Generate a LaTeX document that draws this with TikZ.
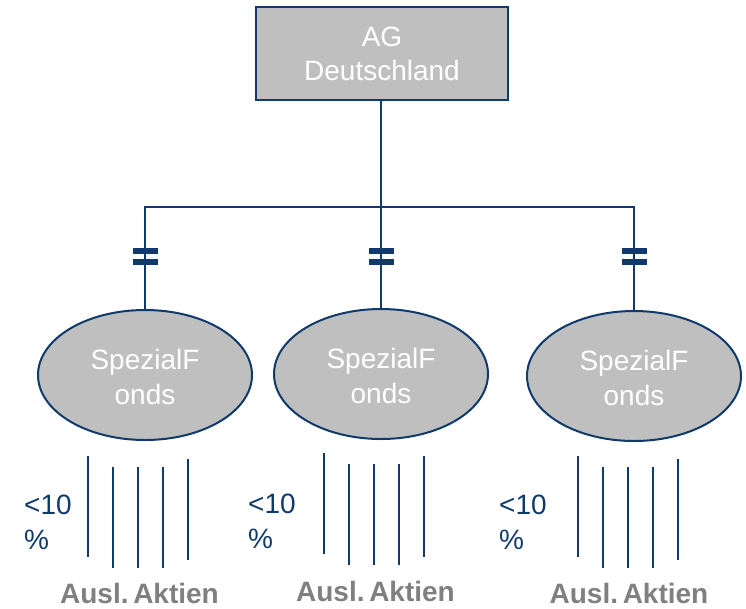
\documentclass[tikz,border=0pt]{standalone}
\usepackage{fontspec}
\setmainfont{Liberation Sans}
\usetikzlibrary{shapes.geometric}
\definecolor{navy}{HTML}{0F3A6B}
\definecolor{boxgray}{HTML}{BFBFBF}
\definecolor{labgray}{HTML}{808080}
\tikzset{
  conn/.style={draw=navy, line width=2pt},
  agbox/.style={draw=navy, line width=2pt, fill=boxgray, minimum width=252pt, minimum height=93pt, inner sep=0pt, text=white, align=center, font=\fontsize{28}{34}\selectfont},
  fund/.style={ellipse, draw=navy, line width=2pt, fill=boxgray, minimum width=214pt, minimum height=130pt, inner sep=0pt, text=white, align=center, font=\fontsize{28}{35}\selectfont},
  fundtext/.style={text=white, align=center, inner sep=0pt, font=\fontsize{28}{35}\selectfont},
  pct/.style={anchor=west, text=navy, align=left, inner sep=0pt, font=\fontsize{28}{35}\selectfont},
  ausl/.style={anchor=base, text=labgray, inner sep=0pt, font=\bfseries\fontsize{28}{34}\selectfont},
  capbar/.style={fill=navy, draw=none},
  stroke/.style={draw=navy, line width=2pt}
}
\begin{document}
\begin{tikzpicture}[x=1pt, y=-1pt]
\useasboundingbox (0,0) rectangle (746,608);
\node[agbox] (ag) at (382,53.5) {AG\\Deutschland};
\node[fund] (f1) at (145,375) {};
\node[fund] (f2) at (381,374) {};
\node[fund] (f3) at (634,376) {};
\node[fundtext] (t1) at (145,377) {SpezialF\\onds};
\node[fundtext] (t2) at (381,376) {SpezialF\\onds};
\node[fundtext] (t3) at (634,378) {SpezialF\\onds};
\coordinate (bus) at (381,207);
\draw[conn] (bus |- ag.south) -- (bus);
\draw[conn] (f1.north) |- (bus) -| (f3.north);
\draw[conn] (bus) -- (f2.north);
\foreach \x in {145,381,634}{
  \fill[capbar] (\x-12.5,248) rectangle (\x+12.5,254);
  \fill[capbar] (\x-12.5,259) rectangle (\x+12.5,265);
}
% stripes
\foreach \ox/\oy in {88/456,324/453,578/456}{
  \draw[stroke] (\ox,\oy) -- (\ox,\oy+101);
  \foreach \k in {1,2,3}{
    \draw[stroke] (\ox+25*\k,\oy+11) -- (\ox+25*\k,\oy+112);
  }
  \draw[stroke] (\ox+100,\oy+3) -- (\ox+100,\oy+104);
}
\node[pct] (p1) at (24,522) {<10\\\%};
\node[pct] (p2) at (248,521) {<10\\\%};
\node[pct] (p3) at (499,522) {<10\\\%};
\node[ausl] (a1) at (139.5,603) {Ausl.\,Aktien};
\node[ausl] (a2) at (375.5,601) {Ausl.\,Aktien};
\node[ausl] (a3) at (629,603) {Ausl.\,Aktien};
\end{tikzpicture}
\end{document}
